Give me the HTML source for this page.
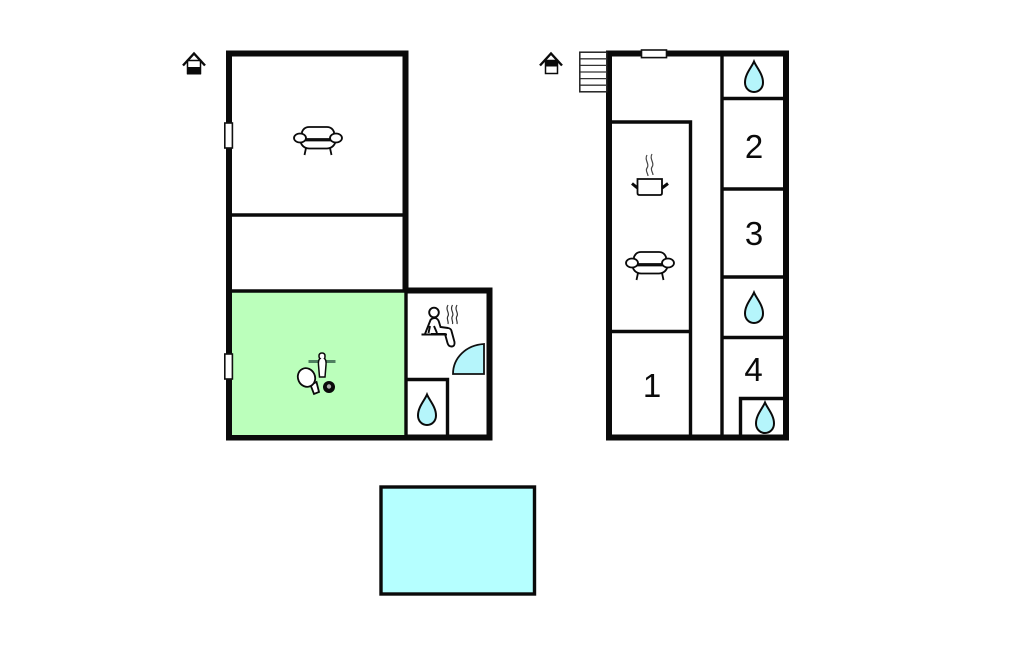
<!DOCTYPE html>
<html>
<head>
<meta charset="utf-8">
<style>
html,body{margin:0;padding:0;background:#fff;}
svg{display:block;}
text{font-family:"Liberation Sans",sans-serif;font-size:33px;fill:#0a0a0a;text-anchor:middle;}
</style>
</head>
<body>
<svg width="1024" height="652" viewBox="0 0 1024 652" xmlns="http://www.w3.org/2000/svg">
<defs>
<path id="drop" d="M0,-15.5 C2.5,-9.5 9,-3 9,5.5 C9,11 5,15 0,15 C-5,15 -9,11 -9,5.5 C-9,-3 -2.5,-9.5 0,-15.5 Z" fill="#b5f5fb" stroke="#0a0a0a" stroke-width="2"/>
<g id="sofa" fill="#fff" stroke="#0a0a0a" stroke-width="1.8">
<path d="M-12,8 L-13.5,15 M12,8 L13.5,15" fill="none"/>
<path d="M-18,-1 Q-17,8 -9,8.5 L9,8.5 Q17,8 18,-1 Z"/>
<path d="M-16,-2 L-16,-8 Q-14,-13 -9,-13 L9,-13 Q14,-13 16,-8 L16,-2"/>
<path d="M-13,0.5 L13,0.5" fill="none"/>
<ellipse cx="-18" cy="-2" rx="6" ry="4.5"/>
<ellipse cx="18" cy="-2" rx="6" ry="4.5"/>
</g>
</defs>

<!-- left building -->
<path d="M229,437.5 V53.5 H405.5 V290.5 H489.5 V437.5 Z" fill="none" stroke="#0a0a0a" stroke-width="6"/>
<rect x="232" y="292" width="173" height="143" fill="#bbffbb"/>
<path d="M232,215 H404 M232,291 H405 M406,291 V435 M406,379.5 H447.5 V435" fill="none" stroke="#0a0a0a" stroke-width="3.4"/>
<rect x="224.8" y="123" width="7.6" height="25" fill="#fff" stroke="#111" stroke-width="1.6"/>
<rect x="224.8" y="354" width="7.6" height="25" fill="#fff" stroke="#111" stroke-width="1.6"/>

<!-- right building -->
<rect x="609" y="53.5" width="177" height="384" fill="#fff" stroke="#0a0a0a" stroke-width="6"/>
<path d="M722,56 V435 M612,122 H690.5 V435 M612,331.5 H690 M723,98.5 H784 M723,189 H784 M723,277 H784 M723,337.5 H784 M740.5,435 V398.5 H784" fill="none" stroke="#0a0a0a" stroke-width="3.4"/>
<rect x="641.5" y="50" width="25" height="7.6" fill="#fff" stroke="#111" stroke-width="1.6"/>

<!-- stairs -->
<rect x="579.8" y="52.2" width="27" height="39.6" fill="#fff" stroke="#222" stroke-width="1.5"/>
<path d="M580,58.8 H607 M580,65.4 H607 M580,72 H607 M580,78.6 H607 M580,85.2 H607" stroke="#333" stroke-width="1.3"/>

<!-- pool -->
<rect x="381" y="487" width="153.5" height="107" fill="#b5ffff" stroke="#0a0a0a" stroke-width="3.4"/>

<!-- house markers -->
<rect x="187.5" y="60.5" width="13" height="13" fill="#fff" stroke="#0a0a0a" stroke-width="1.5"/>
<rect x="187" y="67" width="14" height="7.5" fill="#0a0a0a"/>
<path d="M183,65.5 L194,53.5 L205,65.5" fill="none" stroke="#0a0a0a" stroke-width="2.4"/>
<rect x="545.5" y="60.5" width="12" height="13" fill="#fff" stroke="#0a0a0a" stroke-width="1.5"/>
<rect x="545" y="60" width="13" height="6.5" fill="#0a0a0a"/>
<path d="M540,65.5 L551,53.5 L562,65.5" fill="none" stroke="#0a0a0a" stroke-width="2.4"/>

<!-- sofas -->
<use href="#sofa" x="318" y="140"/>
<use href="#sofa" x="650" y="265"/>

<!-- pot -->
<path d="M637.5,179 H662 V193 Q662,195 660,195 H639.5 Q637.5,195 637.5,193 Z" fill="#fff" stroke="#0a0a0a" stroke-width="1.8"/>
<path d="M637.5,188 L632,183.5 M662,188 L668,183.5" stroke="#0a0a0a" stroke-width="3" fill="none"/>
<path d="M647,155 C644,160 650,164 647,168 C645,171 648,173 648,176 M652,154 C649,159 655,163 652,167 C650,170 653,172 653,175" fill="none" stroke="#444" stroke-width="1.2"/>

<!-- sauna person -->
<circle cx="434" cy="312.5" r="4.8" fill="#fff" stroke="#0a0a0a" stroke-width="1.9"/>
<path d="M425,334 L430.5,320 Q432,318 435,318 Q438,318.5 439,322 L440.5,327 L448,328 Q451,328.5 451.5,331 L454.5,342 Q455,346.5 451.5,346.5 Q448.5,346.5 447.5,343 L445,334 L431,334 M430,326 L428.5,333 M434,326 L437,333" fill="#fff" stroke="#0a0a0a" stroke-width="1.9"/>
<path d="M421.5,334.5 H447" stroke="#0a0a0a" stroke-width="2"/>
<path d="M448,305 C445,310 450,313 448,316 C446,319 449,321 448,324 M452.5,305 C449.5,310 454.5,313 452.5,316 C450.5,319 453.5,321 452.5,324 M457,305 C454,310 459,313 457,316 C455,319 458,321 457,324" fill="none" stroke="#333" stroke-width="1.2"/>

<!-- door quarter circle -->
<path d="M484,344 V374 H453 C453,358 466,345 484,344 Z" fill="#b5f5fb" stroke="#111" stroke-width="1.8"/>

<!-- drops -->
<use href="#drop" x="427" y="410"/>
<use href="#drop" x="754" y="77"/>
<use href="#drop" x="754" y="308"/>
<use href="#drop" x="765" y="418"/>

<!-- table football + ping pong + 8 ball -->
<path d="M308.5,361.5 H335.5" stroke="#4f8060" stroke-width="3"/>
<path d="M322,353 Q325,353 325,356 Q325,358 324.5,358.5 Q326.5,360 326,365 L325,377 H319.5 L318.5,365 Q318,360 320,358.5 Q319,358 319,356 Q319,353 322,353 Z" fill="#fff" stroke="#0a0a0a" stroke-width="1.5"/>
<path d="M310.5,385 L316.5,382 L319,392 L314,394 Z" fill="#fff" stroke="#0a0a0a" stroke-width="1.8"/>
<ellipse cx="306.5" cy="377.5" rx="8.5" ry="9.5" transform="rotate(-25 306.5 377.5)" fill="#fff" stroke="#0a0a0a" stroke-width="1.8"/>
<circle cx="329" cy="387" r="6" fill="#0a0a0a"/>
<circle cx="329" cy="386.5" r="2.2" fill="#aaa"/>

<!-- labels -->
<text x="754" y="158">2</text>
<text x="754" y="245">3</text>
<text x="753.5" y="381">4</text>
<text x="652" y="397">1</text>
</svg>
</body>
</html>
